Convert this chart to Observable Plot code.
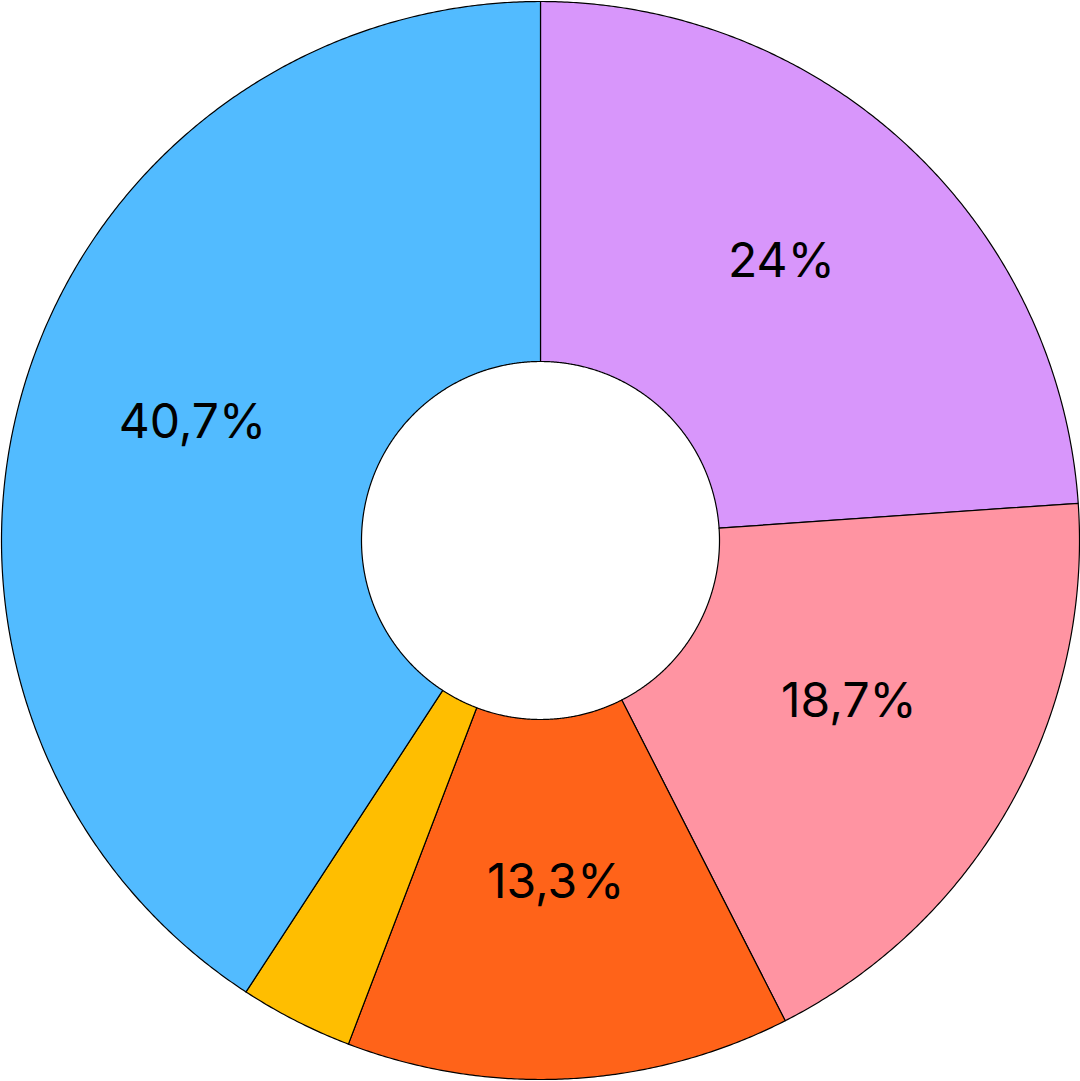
<!DOCTYPE html>
<html>
<head>
<meta charset="utf-8">
<script src="https://cdn.jsdelivr.net/npm/d3@7"></script>
<script src="https://cdn.jsdelivr.net/npm/@observablehq/plot@0.6"></script>
<style>
  html, body { margin: 0; padding: 0; background: #ffffff; }
  #chart svg { display: block; }
</style>
</head>
<body>
<div id="chart"></div>
<script>
const categories = ["A", "B", "C", "D", "E"];
const values = [23.9, 18.6, 13.3, 3.4, 40.8];
const labels = ["24%", "18,7%", "13,3%", "", "40,7%"];
const colors = ["#d896fb", "#ff94a2", "#ff6319", "#ffbe00", "#52bbff"];

const W = 1080, H = 1081;
const outerR = 539, innerR = 179;

const pie = d3.pie().sort(null).value(d => d.value);
const arcs = pie(categories.map((c, i) => ({category: c, value: values[i], label: labels[i]})));

const polys = [];
const labelPts = [];
for (const a of arcs) {
  const n = Math.max(8, Math.ceil((a.endAngle - a.startAngle) * 180));
  const pts = [];
  for (let k = 0; k <= n; k++) {
    const t = a.startAngle + (a.endAngle - a.startAngle) * k / n;
    pts.push([Math.sin(t) * outerR, Math.cos(t) * outerR]);
  }
  for (let k = n; k >= 0; k--) {
    const t = a.startAngle + (a.endAngle - a.startAngle) * k / n;
    pts.push([Math.sin(t) * innerR, Math.cos(t) * innerR]);
  }
  pts.push(pts[0]);
  for (const p of pts) polys.push({category: a.data.category, x: p[0], y: p[1]});
  const mid = (a.startAngle + a.endAngle) / 2;
  const rm = (outerR + innerR) / 2;
  if (a.data.label) labelPts.push({label: a.data.label, x: Math.sin(mid) * rm, y: Math.cos(mid) * rm});
}

const chart = Plot.plot({
  width: W,
  height: H,
  margin: 0,
  style: {background: "#ffffff"},
  x: {domain: [-540, 540], range: [0, 1080], axis: null},
  y: {domain: [-541, 540], range: [1081, 0], axis: null},
  color: {domain: categories, range: colors},
  marks: [
    Plot.line(polys, {x: "x", y: "y", z: "category", fill: "category", stroke: "#000000", strokeWidth: 1.2, curve: "linear"}),
    Plot.text(labelPts, {x: "x", y: "y", text: "label", dx: -4, dy: -16, fontSize: 48, fontFamily: "Inter", fill: "#000000"})
  ]
});
document.getElementById("chart").appendChild(chart);
</script>
</body>
</html>
